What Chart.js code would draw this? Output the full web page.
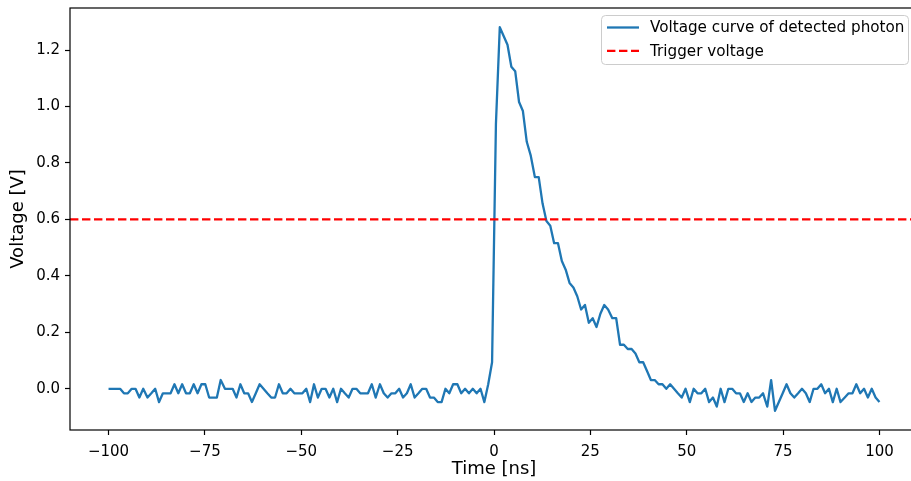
<!DOCTYPE html>
<html><head><meta charset="utf-8">
<script src="https://cdn.jsdelivr.net/npm/chart.js@4/dist/chart.umd.min.js"></script>
<style>
html,body{margin:0;padding:0;background:#fff;overflow:hidden;}
#wrap{position:relative;width:925px;height:481px;}
canvas{display:block;}
</style></head><body>
<div id="wrap"><canvas id="c" width="925" height="481"></canvas></div>
<script>
// Sample times [ns]
const timeNs = [
 -100,-99,-98,-97,-96,-95,-94,-93,-92,-91,
 -89.9,-88.9,-87.9,-86.9,-85.9,-84.9,-83.9,-82.9,-81.9,-80.9,
 -79.9,-78.9,-77.9,-76.9,-75.9,-74.9,-73.9,-72.9,-71.9,-70.9,
 -69.8,-68.8,-67.8,-66.8,-65.8,-64.8,-63.8,-62.8,-61.8,-60.8,
 -59.8,-58.8,-57.8,-56.8,-55.8,-54.8,-53.8,-52.8,-51.8,-50.8,
 -49.7,-48.7,-47.7,-46.7,-45.7,-44.7,-43.7,-42.7,-41.7,-40.7,
 -39.7,-38.7,-37.7,-36.7,-35.7,-34.7,-33.7,-32.7,-31.7,-30.7,
 -29.6,-28.6,-27.6,-26.6,-25.6,-24.6,-23.6,-22.6,-21.6,-20.6,
 -19.6,-18.6,-17.6,-16.6,-15.6,-14.6,-13.6,-12.6,-11.6,-10.6,
 -9.5,-8.5,-7.5,-6.5,-5.5,-4.5,-3.5,-2.5,-1.5,-0.5,
 0.5,1.5,2.5,3.5,4.5,5.5,6.5,7.5,8.5,9.5,
 10.6,11.6,12.6,13.6,14.6,15.6,16.6,17.6,18.6,19.6,
 20.6,21.6,22.6,23.6,24.6,25.6,26.6,27.6,28.6,29.6,
 30.7,31.7,32.7,33.7,34.7,35.7,36.7,37.7,38.7,39.7,
 40.7,41.7,42.7,43.7,44.7,45.7,46.7,47.7,48.7,49.7,
 50.8,51.8,52.8,53.8,54.8,55.8,56.8,57.8,58.8,59.8,
 60.8,61.8,62.8,63.8,64.8,65.8,66.8,67.8,68.8,69.8,
 70.9,71.9,72.9,73.9,74.9,75.9,76.9,77.9,78.9,79.9,
 80.9,81.9,82.9,83.9,84.9,85.9,86.9,87.9,88.9,89.9,
 91,92,93,94,95,96,97,98,99,100
];
// Measured voltage [V]
const voltage = [
 0,0,0,0,-0.016,-0.016,0,0,-0.031,0,
 -0.031,-0.016,0,-0.047,-0.016,-0.016,-0.016,0.016,-0.016,0.016,
 -0.016,-0.016,0.016,-0.016,0.016,0.016,-0.031,-0.031,-0.031,0.031,
 0,0,0,-0.031,0.016,-0.016,-0.016,-0.047,-0.016,0.016,
 0,-0.016,-0.031,-0.031,0.016,-0.016,-0.016,0,-0.016,-0.016,
 -0.016,0,-0.047,0.016,-0.031,0,0,-0.031,0,-0.047,
 0,-0.016,-0.031,0,0,-0.016,-0.016,-0.016,0.016,-0.031,
 0.016,-0.016,-0.031,-0.016,-0.016,0,-0.031,-0.016,0.016,-0.031,
 -0.016,0,0,-0.031,-0.031,-0.047,-0.047,0,-0.016,0.016,
 0.016,-0.016,0,-0.016,0,-0.016,0,-0.047,0.016,0.094,
 0.938,1.281,1.25,1.219,1.141,1.125,1.016,0.984,0.875,0.828,
 0.75,0.75,0.656,0.594,0.578,0.516,0.516,0.453,0.422,0.375,
 0.359,0.328,0.281,0.297,0.234,0.25,0.219,0.266,0.297,0.281,
 0.25,0.25,0.156,0.156,0.141,0.141,0.125,0.094,0.094,0.063,
 0.031,0.031,0.016,0.016,0,0.016,0,-0.016,-0.031,0,
 -0.047,0,-0.016,-0.016,0,-0.047,-0.031,-0.063,0,-0.047,
 0,0,-0.016,-0.016,-0.047,-0.016,-0.047,-0.031,-0.031,-0.016,
 -0.063,0.031,-0.078,-0.047,-0.016,0.016,-0.016,-0.031,-0.016,0,
 -0.016,-0.047,0,0,0.016,-0.016,0,-0.047,0,-0.047,
 -0.031,-0.016,-0.016,0.016,-0.016,0,-0.031,0,-0.031,-0.047
];
const triggerVoltage = 0.6;
const seriesLabels = ['Voltage curve of detected photon', 'Trigger voltage'];
const xTicks = [-100,-75,-50,-25,0,25,50,75,100];
const yTicks = [0.0,0.2,0.4,0.6,0.8,1.0,1.2];
const xRange = [-110, 110];
const yRange = [-0.146, 1.349];

const FONT = 'DejaVu Sans';
Chart.defaults.color = '#000';
Chart.defaults.font.family = FONT;

const frame = {
  id: 'frame',
  afterDatasetsDraw(chart) {
    const {ctx, chartArea: a} = chart;
    ctx.save();
    ctx.strokeStyle = '#000';
    ctx.lineWidth = 1.2;
    ctx.strokeRect(a.left, a.top, a.right - a.left, a.bottom - a.top);
    ctx.restore();
  }
};
const legendBox = {
  id: 'legendBox',
  afterDraw(chart) {
    const ctx = chart.ctx;
    const x = 601.5, y = 15.5, w = 307, h = 49, r = 4;
    ctx.save();
    ctx.beginPath();
    ctx.roundRect(x, y, w, h, r);
    ctx.fillStyle = 'rgba(255,255,255,0.8)';
    ctx.fill();
    ctx.strokeStyle = '#cccccc';
    ctx.lineWidth = 1;
    ctx.stroke();
    ctx.font = '15.2px "' + FONT + '"';
    ctx.textBaseline = 'middle';
    chart.data.datasets.forEach((ds, i) => {
      const cy = 27.5 + i * 23.3;
      ctx.beginPath();
      ctx.setLineDash(ds.borderDash || []);
      ctx.strokeStyle = ds.borderColor;
      ctx.lineWidth = ds.borderWidth;
      ctx.moveTo(607, cy);
      ctx.lineTo(639, cy);
      ctx.stroke();
      ctx.setLineDash([]);
      ctx.fillStyle = '#000';
      ctx.fillText(ds.label, 650, cy + 1);
    });
    ctx.restore();
  }
};

new Chart(document.getElementById('c'), {
  type: 'line',
  data: {
    datasets: [
      {
        label: seriesLabels[0],
        data: timeNs.map((t, i) => ({x: t, y: voltage[i]})),
        borderColor: '#1f77b4',
        borderWidth: 2.3,
        pointRadius: 0,
        tension: 0,
        borderJoinStyle: 'round',
        fill: false,
        order: 1
      },
      {
        label: seriesLabels[1],
        data: [{x: xRange[0], y: triggerVoltage}, {x: xRange[1], y: triggerVoltage}],
        borderColor: '#ff0000',
        borderWidth: 2.3,
        borderDash: [8.4, 3.6],
        pointRadius: 0,
        fill: false,
        order: 0
      }
    ]
  },
  options: {
    responsive: false,
    devicePixelRatio: 1,
    animation: false,
    layout: {padding: {left: 0, top: 8, right: 7, bottom: 0}},
    plugins: {legend: {display: false}, tooltip: {enabled: false}},
    scales: {
      x: {
        type: 'linear',
        min: xRange[0], max: xRange[1],
        afterFit(s) { s.height = 51; s.paddingLeft = 0; s.paddingRight = 0; },
        afterBuildTicks(s) { s.ticks = xTicks.map(v => ({value: v})); },
        ticks: {
          autoSkip: false, maxRotation: 0, padding: 8,
          font: {size: 15, family: FONT}, color: '#000',
          callback: v => (v < 0 ? '\u2212' + Math.abs(v) : String(v))
        },
        grid: {display: true, drawOnChartArea: false, drawTicks: true, tickLength: 5, tickColor: '#000', tickWidth: 1.2},
        border: {display: false},
        title: {display: true, text: 'Time [ns]', font: {size: 18, family: FONT}, color: '#000', padding: {top: 0, bottom: 1}}
      },
      y: {
        type: 'linear',
        min: yRange[0], max: yRange[1],
        afterFit(s) { s.width = 70; s.paddingTop = 0; s.paddingBottom = 0; },
        afterBuildTicks(s) { s.ticks = yTicks.map(v => ({value: v})); },
        ticks: {
          autoSkip: false, padding: 5,
          font: {size: 15, family: FONT}, color: '#000',
          callback: v => v.toFixed(1)
        },
        grid: {display: true, drawOnChartArea: false, drawTicks: true, tickLength: 5, tickColor: '#000', tickWidth: 1.2},
        border: {display: false},
        title: {display: true, text: 'Voltage [V]', font: {size: 18, family: FONT}, color: '#000', padding: {top: 8, bottom: 0}}
      }
    }
  },
  plugins: [frame, legendBox]
});
</script>
</body></html>
